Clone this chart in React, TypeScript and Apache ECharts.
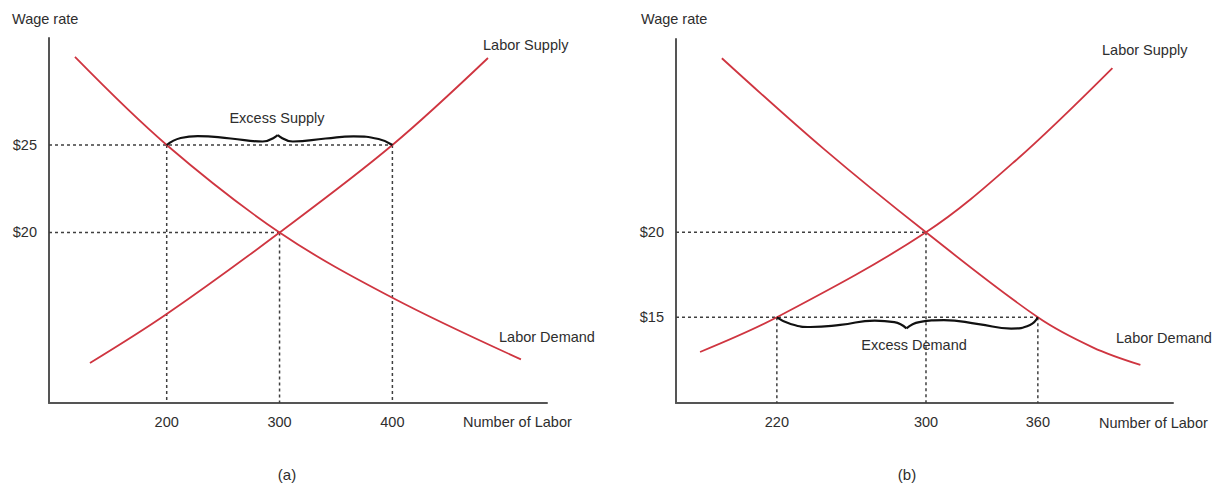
import React, { useEffect, useRef } from "react";
import * as echarts from "echarts";

// Panel (a) axis ranges
const A_X_MIN = 95.7, A_X_MAX = 537, A_Y_MIN = 10.257, A_Y_MAX = 31.114;
// Panel (b) axis ranges
const B_X_MIN = 165.9, B_X_MAX = 432.5, B_Y_MIN = 9.96, B_Y_MAX = 31.37;

const xTicksA = [200, 300, 400];
const yTicksA = [20, 25];
const xTicksB = [220, 300, 360];
const yTicksB = [15, 20];

const supplyA = [[132, 12.54], [200, 15.34], [300, 20], [400, 25], [484.7, 29.97]];
const demandA = [[118.7, 30.03], [200, 25], [300, 20], [400, 16.27], [513.9, 12.75]];
const supplyB = [[178.8, 12.96], [220, 15], [300, 20], [348.3, 24.24], [400, 29.66]];
const demandB = [[190.5, 30.24], [245, 24.92], [300, 20], [360, 15], [389.7, 13.22], [415, 12.2]];

const equilibriumA = [300, 20];
const equilibriumB = [300, 20];

const braceALeft = [[200, 25], [212.4, 25.4], [227.5, 25.51], [256.7, 25.37], [285, 25.2], [298.4, 25.57]];
const braceARight = [[298.4, 25.57], [311.7, 25.2], [340.9, 25.37], [365.7, 25.49], [387.8, 25.34], [400, 25]];
const braceBLeft = [[220, 15], [227.4, 14.61], [238, 14.43], [254, 14.55], [272.5, 14.81], [283, 14.72], [289.5, 14.35]];
const braceBRight = [[289.5, 14.35], [296.4, 14.72], [309.6, 14.84], [328.2, 14.6], [345.7, 14.34], [355.8, 14.55], [360, 15]];

const guidesA = [
  [[A_X_MIN, 25], [400, 25]],
  [[200, 25], [200, A_Y_MIN]],
  [[A_X_MIN, 20], [300, 20]],
  [[300, 20], [300, A_Y_MIN]],
  [[400, 25], [400, A_Y_MIN]],
];
const guidesB = [
  [[B_X_MIN, 20], [300, 20]],
  [[300, 20], [300, B_Y_MIN]],
  [[B_X_MIN, 15], [360, 15]],
  [[220, 15], [220, B_Y_MIN]],
  [[360, 15], [360, B_Y_MIN]],
];

const FONT = "'Liberation Sans', Arial, Helvetica, sans-serif";
const TEXT = "#2e2e2e";
const RED = "#cf3540";
const AXIS = "#555555";
const GUIDE = "#3f3f3f";

function makeAxes(idx: number, xmin: number, xmax: number, ymin: number, ymax: number, xt: number[], yt: number[]) {
  const xAxis = {
    type: "value",
    gridIndex: idx,
    min: xmin,
    max: xmax,
    axisLine: { show: true, onZero: false, lineStyle: { color: AXIS, width: 2 } },
    axisTick: { show: false },
    splitLine: { show: false },
    axisLabel: {
      show: true,
      customValues: xt,
      margin: 11,
      color: TEXT,
      fontSize: 14.5,
      fontFamily: FONT,
      formatter: (v: number) => String(v),
    },
  };
  const yAxis = {
    type: "value",
    gridIndex: idx,
    min: ymin,
    max: ymax,
    axisLine: { show: true, onZero: false, lineStyle: { color: AXIS, width: 2 } },
    axisTick: { show: false },
    splitLine: { show: false },
    axisLabel: {
      show: true,
      customValues: yt,
      margin: 12,
      color: TEXT,
      fontSize: 14.5,
      fontFamily: FONT,
      formatter: (v: number) => "$" + v,
    },
  };
  return { xAxis, yAxis };
}

function guideSeries(idx: number, segs: number[][][]) {
  return segs.map((d) => ({
    type: "line",
    xAxisIndex: idx,
    yAxisIndex: idx,
    data: d,
    symbol: "none",
    silent: true,
    z: 1,
    lineStyle: { color: GUIDE, width: 1.5, type: [3, 3] },
  }));
}

function curve(idx: number, d: number[][]) {
  return {
    type: "line",
    xAxisIndex: idx,
    yAxisIndex: idx,
    data: d,
    smooth: 0.35,
    symbol: "none",
    z: 3,
    lineStyle: { color: RED, width: 1.8 },
  };
}

function brace(idx: number, d: number[][]) {
  return {
    type: "line",
    xAxisIndex: idx,
    yAxisIndex: idx,
    data: d,
    smooth: 0.5,
    symbol: "none",
    z: 4,
    lineStyle: { color: "#111111", width: 2.2 },
  };
}

function eq(idx: number, p: number[]) {
  return {
    type: "scatter",
    xAxisIndex: idx,
    yAxisIndex: idx,
    data: [p],
    symbolSize: 1,
    itemStyle: { opacity: 0 },
    z: 5,
    label: {
      show: true,
      position: "right",
      distance: 14,
      formatter: "E",
      color: TEXT,
      fontSize: 14.5,
      fontFamily: FONT,
    },
  };
}

function txt(x: number, y: number, text: string, align = "left", size = 14.5) {
  return {
    type: "text",
    x,
    y,
    style: {
      text,
      fill: TEXT,
      fontSize: size,
      fontFamily: FONT,
      align,
      verticalAlign: "middle",
      textAlign: align,
      textVerticalAlign: "middle",
    },
  };
}

export default function App() {
  const ref = useRef<HTMLDivElement>(null);
  useEffect(() => {
    if (!ref.current) return;
    const chart = echarts.init(ref.current, null, { renderer: "svg" });
    const a = makeAxes(0, A_X_MIN, A_X_MAX, A_Y_MIN, A_Y_MAX, xTicksA, yTicksA);
    const b = makeAxes(1, B_X_MIN, B_X_MAX, B_Y_MIN, B_Y_MAX, xTicksB, yTicksB);
    chart.setOption({
      animation: false,
      backgroundColor: "#ffffff",
      grid: [
        { left: 49, top: 38, width: 498, height: 365 },
        { left: 676, top: 39, width: 497, height: 364 },
      ],
      xAxis: [a.xAxis, b.xAxis],
      yAxis: [a.yAxis, b.yAxis],
      series: [
        ...guideSeries(0, guidesA),
        ...guideSeries(1, guidesB),
        curve(0, supplyA),
        curve(0, demandA),
        curve(1, supplyB),
        curve(1, demandB),
        brace(0, braceALeft),
        brace(0, braceARight),
        brace(1, braceBLeft),
        brace(1, braceBRight),
        eq(0, equilibriumA),
        eq(1, equilibriumB),
      ],
      graphic: [
        txt(12, 19, "Wage rate"),
        txt(641, 19, "Wage rate"),
        txt(483, 45, "Labor Supply"),
        txt(1102, 50, "Labor Supply"),
        txt(499, 337, "Labor Demand"),
        txt(1116, 338, "Labor Demand"),
        txt(463, 422, "Number of Labor"),
        txt(1099, 423, "Number of Labor"),
        txt(277, 118, "Excess Supply", "center"),
        txt(914, 345, "Excess Demand", "center"),
        txt(287, 474, "(a)", "center", 15),
        txt(907, 474, "(b)", "center", 15),
      ],
    });
    return () => chart.dispose();
  }, []);
  return (
    <div
      ref={ref}
      style={{ position: "absolute", left: 0, top: 0, width: 1220, height: 488, background: "#fff" }}
    />
  );
}
